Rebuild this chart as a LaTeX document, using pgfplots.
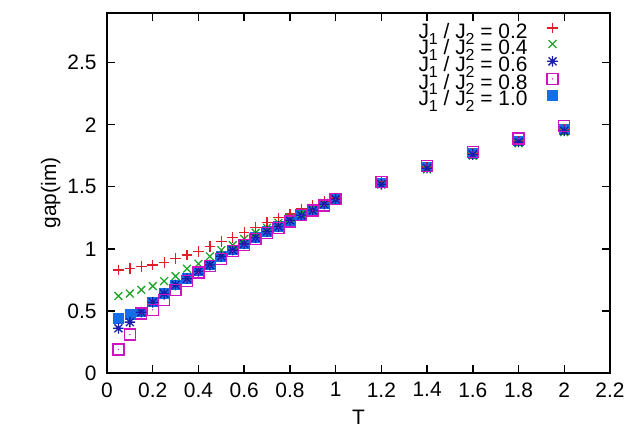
\documentclass[border=0pt]{standalone}
\usepackage{pgfplots}
\pgfplotsset{compat=1.18}
\usepackage{pgfplotstable}
\usepackage{fontspec}
\setmainfont{Liberation Sans}
\usetikzlibrary{calc}

\definecolor{gpred}{RGB}{225,30,40}
\definecolor{gpgreen}{RGB}{30,165,40}
\definecolor{gpblue}{RGB}{25,30,170}
\definecolor{gpmag}{RGB}{205,20,190}
\definecolor{gplblue}{RGB}{20,110,230}

\pgfdeclareplotmark{gpstar}{%
  \pgfpathmoveto{\pgfqpoint{-\pgfplotmarksize}{0pt}}\pgfpathlineto{\pgfqpoint{\pgfplotmarksize}{0pt}}%
  \pgfpathmoveto{\pgfqpoint{0pt}{-\pgfplotmarksize}}\pgfpathlineto{\pgfqpoint{0pt}{\pgfplotmarksize}}%
  \pgfpathmoveto{\pgfqpoint{-.75\pgfplotmarksize}{-.75\pgfplotmarksize}}\pgfpathlineto{\pgfqpoint{.75\pgfplotmarksize}{.75\pgfplotmarksize}}%
  \pgfpathmoveto{\pgfqpoint{-.75\pgfplotmarksize}{.75\pgfplotmarksize}}\pgfpathlineto{\pgfqpoint{.75\pgfplotmarksize}{-.75\pgfplotmarksize}}%
  \pgfusepathqstroke}
\pgfdeclareplotmark{gpsqdot}{%
  \pgfpathrectangle{\pgfqpoint{-\pgfplotmarksize}{-\pgfplotmarksize}}{\pgfqpoint{2\pgfplotmarksize}{2\pgfplotmarksize}}%
  \pgfusepathqstroke
  \pgfpathcircle{\pgfpointorigin}{0.7pt}\pgfusepathqfill}

\pgfplotstableread{
T     r     g     b     m     lb
0.05 0.83 0.62 0.36 0.19 0.44
0.10 0.84 0.64 0.41 0.31 0.47
0.15 0.86 0.67 0.49 0.48 0.49
0.20 0.87 0.70 0.57 0.51 0.57
0.25 0.89 0.74 0.64 0.59 0.64
0.30 0.92 0.78 0.71 0.67 0.71
0.35 0.95 0.84 0.76 0.74 0.76
0.40 0.98 0.88 0.82 0.81 0.82
0.45 1.02 0.94 0.87 0.86 0.87
0.50 1.06 0.99 0.94 0.92 0.94
0.55 1.09 1.03 0.99 0.98 0.99
0.60 1.13 1.08 1.04 1.03 1.04
0.65 1.17 1.13 1.09 1.08 1.09
0.70 1.21 1.17 1.14 1.13 1.14
0.75 1.25 1.21 1.18 1.17 1.18
0.80 1.28 1.25 1.23 1.22 1.23
0.85 1.32 1.29 1.27 1.27 1.27
0.90 1.35 1.33 1.31 1.31 1.31
0.95 1.38 1.37 1.36 1.35 1.36
1.00 1.41 1.40 1.40 1.40 1.40
1.20 1.54 1.52 1.52 1.54 1.53
1.40 1.66 1.64 1.65 1.67 1.66
1.60 1.77 1.75 1.76 1.78 1.77
1.80 1.87 1.85 1.86 1.89 1.87
2.00 1.96 1.94 1.95 1.99 1.96
}\gapdata

\newcommand\sub[1]{\raisebox{-5.5bp}{\fontsize{16}{16}\selectfont #1}}
\newcommand\lent[1]{J\sub{1} / J\sub{2} = #1\hspace*{18bp}}

\begin{document}
\begin{tikzpicture}
\begin{axis}[
  name=ax,
  scale only axis,
  width=503bp, height=360bp,
  xmin=0, xmax=2.2, ymin=0, ymax=2.9,
  xtick={0,0.2,...,2.21},
  ytick={0,0.5,...,2.51},
  tick align=inside,
  major tick length=8bp,
  axis line style={line width=1.6bp},
  every tick/.style={black, line width=1.4bp},
  /pgf/number format/assume math mode=true,
  tick label style={font=\fontsize{21}{22}\selectfont},
  yticklabel style={xshift=-7bp},
  xticklabel style={yshift=-6bp},
  xlabel={T},
  ylabel={gap(im)},
  label style={font=\fontsize{21}{22}\selectfont},
  xlabel style={yshift=-6bp},
  ylabel style={yshift=0bp},
  legend cell align=right,
  legend plot pos=right,
  legend image post style={yshift=6bp},
  legend style={draw=none, fill=none, at={(rel axis cs:0.903,0.979)}, anchor=north east,
    font=\fontsize{21}{22}\selectfont, row sep=-4bp,
    nodes={inner sep=1.5bp, text height=13bp, text depth=4bp}},
  every axis plot/.append style={only marks, line width=1.3bp},
]
\addplot[gplblue, mark=square*, mark size=4.6bp, forget plot] table[x=T,y=lb]{\gapdata};
\addplot[gpred, mark=+, mark size=5.3bp] table[x=T,y=r]{\gapdata};
\addlegendentry{\lent{0.2}}
\addplot[gpgreen, mark=x, mark size=5.5bp] table[x=T,y=g]{\gapdata};
\addlegendentry{\lent{0.4}}
\addplot[gpblue, mark=gpstar, mark size=5.3bp] table[x=T,y=b]{\gapdata};
\addlegendentry{\lent{0.6}}
\addplot[gpmag, mark=gpsqdot, mark size=5.5bp] table[x=T,y=m]{\gapdata};
\addlegendentry{\lent{0.8}}
\addlegendimage{gplblue, only marks, mark=square*, mark size=4.6bp}
\addlegendentry{\lent{1.0}}
\end{axis}
\pgfresetboundingbox
\path ($(ax.south west)+(-107bp,-56bp)$) rectangle ($(ax.north east)+(16bp,13bp)$);
\end{tikzpicture}
\end{document}
